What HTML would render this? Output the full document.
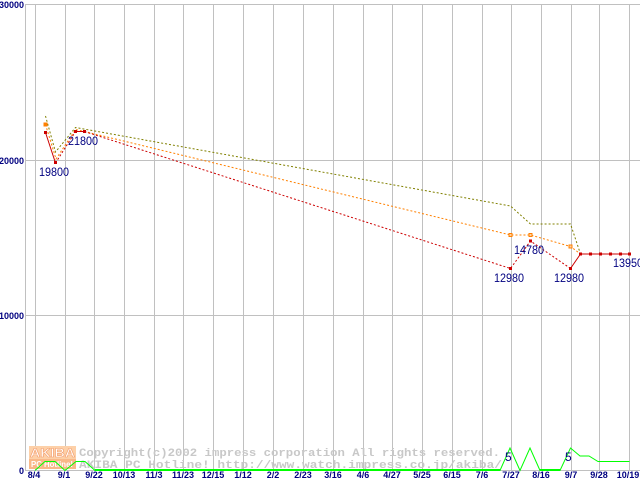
<!DOCTYPE html>
<html><head><meta charset="utf-8"><style>
html,body{margin:0;padding:0;background:#fff;}
svg{display:block;}
</style></head><body>
<svg width="640" height="480" viewBox="0 0 640 480" xmlns="http://www.w3.org/2000/svg">
<rect width="640" height="480" fill="#fff"/>
<g stroke="#c0c0c0" stroke-width="1" shape-rendering="crispEdges">
<line x1="25" y1="4.5" x2="640" y2="4.5"/>
<line x1="25" y1="160.5" x2="640" y2="160.5"/>
<line x1="25" y1="315.5" x2="640" y2="315.5"/>
<line x1="25" y1="470.5" x2="640" y2="470.5"/>
<line x1="25.5" y1="4" x2="25.5" y2="471"/>
<line x1="35.5" y1="4" x2="35.5" y2="471"/>
<line x1="65.5" y1="4" x2="65.5" y2="471"/>
<line x1="94.5" y1="4" x2="94.5" y2="471"/>
<line x1="124.5" y1="4" x2="124.5" y2="471"/>
<line x1="154.5" y1="4" x2="154.5" y2="471"/>
<line x1="183.5" y1="4" x2="183.5" y2="471"/>
<line x1="213.5" y1="4" x2="213.5" y2="471"/>
<line x1="243.5" y1="4" x2="243.5" y2="471"/>
<line x1="273.5" y1="4" x2="273.5" y2="471"/>
<line x1="303.5" y1="4" x2="303.5" y2="471"/>
<line x1="333.5" y1="4" x2="333.5" y2="471"/>
<line x1="363.5" y1="4" x2="363.5" y2="471"/>
<line x1="392.5" y1="4" x2="392.5" y2="471"/>
<line x1="422.5" y1="4" x2="422.5" y2="471"/>
<line x1="452.5" y1="4" x2="452.5" y2="471"/>
<line x1="482.5" y1="4" x2="482.5" y2="471"/>
<line x1="511.5" y1="4" x2="511.5" y2="471"/>
<line x1="541.5" y1="4" x2="541.5" y2="471"/>
<line x1="571.5" y1="4" x2="571.5" y2="471"/>
<line x1="599.5" y1="4" x2="599.5" y2="471"/>
<line x1="629.5" y1="4" x2="629.5" y2="471"/>
</g>

<!-- watermark -->
<rect x="29" y="446" width="47" height="13" fill="#fdd0a8"/>
<rect x="29" y="459" width="47" height="10" fill="#f9b888"/>
<text x="30" y="457" font-family="Liberation Sans, sans-serif" font-weight="bold" font-size="12" fill="#fff" stroke="#f4a070" stroke-width="0.6" textLength="45" lengthAdjust="spacingAndGlyphs">AKIBA</text>
<text x="31" y="467" font-family="Liberation Sans, sans-serif" font-weight="bold" font-size="8" fill="#fff" textLength="42" lengthAdjust="spacingAndGlyphs">PC Hotline!</text>
<g font-family="Liberation Mono, monospace" font-weight="bold" font-size="11" fill="#c8c8c8">
<text x="79" y="456" textLength="421" lengthAdjust="spacingAndGlyphs">Copyright(c)2002 impress corporation All rights reserved.</text>
<text x="79" y="468" textLength="423" lengthAdjust="spacingAndGlyphs">AKIBA PC Hotline!  http://www.watch.impress.co.jp/akiba/</text>
</g>

<!-- olive series -->
<g fill="none" stroke="#808000" stroke-width="1" stroke-dasharray="2 2">
<polyline points="45.5,116 55.5,152 75.5,127.5 510.5,206 530.5,224 570.5,224 580.5,254"/>
</g>
<!-- orange series -->
<g fill="none" stroke="#ff8000" stroke-width="1" stroke-dasharray="2 2">
<polyline points="45.5,124.5 56,159 75.5,129.5 84.5,131.5 510.5,235 530.5,235 570.5,246.5 580.5,254"/>
</g>
<g fill="#ffd0a0" stroke="#ff8000" stroke-width="1">
<rect x="44" y="123" width="3" height="3" fill="#ff8000"/>
<rect x="509" y="233.5" width="3" height="3"/>
<rect x="529" y="233.5" width="3" height="3"/>
<rect x="569" y="245" width="3" height="3"/>
</g>
<!-- red series -->
<g fill="none" stroke="#cc0000" stroke-width="1">
<polyline points="45.5,132.5 55.5,163"/>
<polyline points="75.5,131.5 84.5,131.5"/>
<polyline points="570.5,268.5 580.5,254 629.5,254"/>
<g stroke-dasharray="2 2">
<polyline points="55.5,163 75.5,131.5"/>
<polyline points="84.5,131.5 510.5,268.5 530.5,241 570.5,268.5"/>
</g>
</g>
<g fill="#cc0000">
<rect x="44" y="131" width="3" height="3"/>
<rect x="54" y="161" width="3" height="3"/>
<rect x="74" y="130" width="3" height="3"/>
<rect x="83" y="130" width="3" height="3"/>
<rect x="509" y="267" width="3" height="3"/>
<rect x="529" y="239.5" width="3" height="3"/>
<rect x="569" y="267" width="3" height="3"/>
<rect x="579" y="252.5" width="3" height="3"/>
<rect x="589" y="252.5" width="3" height="3"/>
<rect x="599" y="252.5" width="3" height="3"/>
<rect x="609" y="252.5" width="3" height="3"/>
<rect x="619" y="252.5" width="3" height="3"/>
<rect x="628" y="252.5" width="3" height="3"/>
</g>

<!-- green series -->
<polyline fill="none" stroke="#00ff00" stroke-width="1" points="35,470.5 45,461.5 55,461.5 65,470.5 76,461.5 85,461.5 95,470.5 500,470.5 510,448 520,470.5 530,448 540,470.5 560,470.5 570.5,448 580,456 589,456 598,461.5 629.5,461.5"/>
<rect x="95" y="469" width="405" height="2" fill="#00ff00"/>
<rect x="540" y="469" width="20" height="2" fill="#00ff00"/>

<!-- data labels -->
<g font-family="Liberation Sans, sans-serif" font-size="12" fill="#000080">
<text x="39" y="176" textLength="30" lengthAdjust="spacingAndGlyphs">19800</text>
<text x="68" y="145" textLength="30" lengthAdjust="spacingAndGlyphs">21800</text>
<text x="494" y="282" textLength="30" lengthAdjust="spacingAndGlyphs">12980</text>
<text x="514" y="254" textLength="30" lengthAdjust="spacingAndGlyphs">14780</text>
<text x="554" y="282" textLength="30" lengthAdjust="spacingAndGlyphs">12980</text>
<text x="613" y="267" textLength="30" lengthAdjust="spacingAndGlyphs">13950</text>
<text x="505" y="461">5</text>
<text x="565" y="461">5</text>
</g>

<!-- y axis labels -->
<g font-family="Liberation Sans, sans-serif" font-weight="bold" font-size="9" fill="#000080" text-anchor="end">
<text x="24" y="8">30000</text>
<text x="24" y="164">20000</text>
<text x="24" y="319">10000</text>
<text x="24" y="474">0</text>
</g>
<!-- x axis labels -->
<g font-family="Liberation Sans, sans-serif" font-weight="bold" font-size="9" fill="#000080" text-anchor="middle">
<text x="34" y="478">8/4</text>
<text x="64" y="478">9/1</text>
<text x="94" y="478">9/22</text>
<text x="124" y="478">10/13</text>
<text x="154" y="478">11/3</text>
<text x="183" y="478">11/23</text>
<text x="213" y="478">12/15</text>
<text x="243" y="478">1/12</text>
<text x="273" y="478">2/2</text>
<text x="303" y="478">2/23</text>
<text x="333" y="478">3/16</text>
<text x="363" y="478">4/6</text>
<text x="392" y="478">4/27</text>
<text x="422" y="478">5/25</text>
<text x="452" y="478">6/15</text>
<text x="482" y="478">7/6</text>
<text x="511" y="478">7/27</text>
<text x="541" y="478">8/16</text>
<text x="571" y="478">9/7</text>
<text x="599" y="478">9/28</text>
<text x="628" y="478">10/19</text>
</g>
</svg>
</body></html>
